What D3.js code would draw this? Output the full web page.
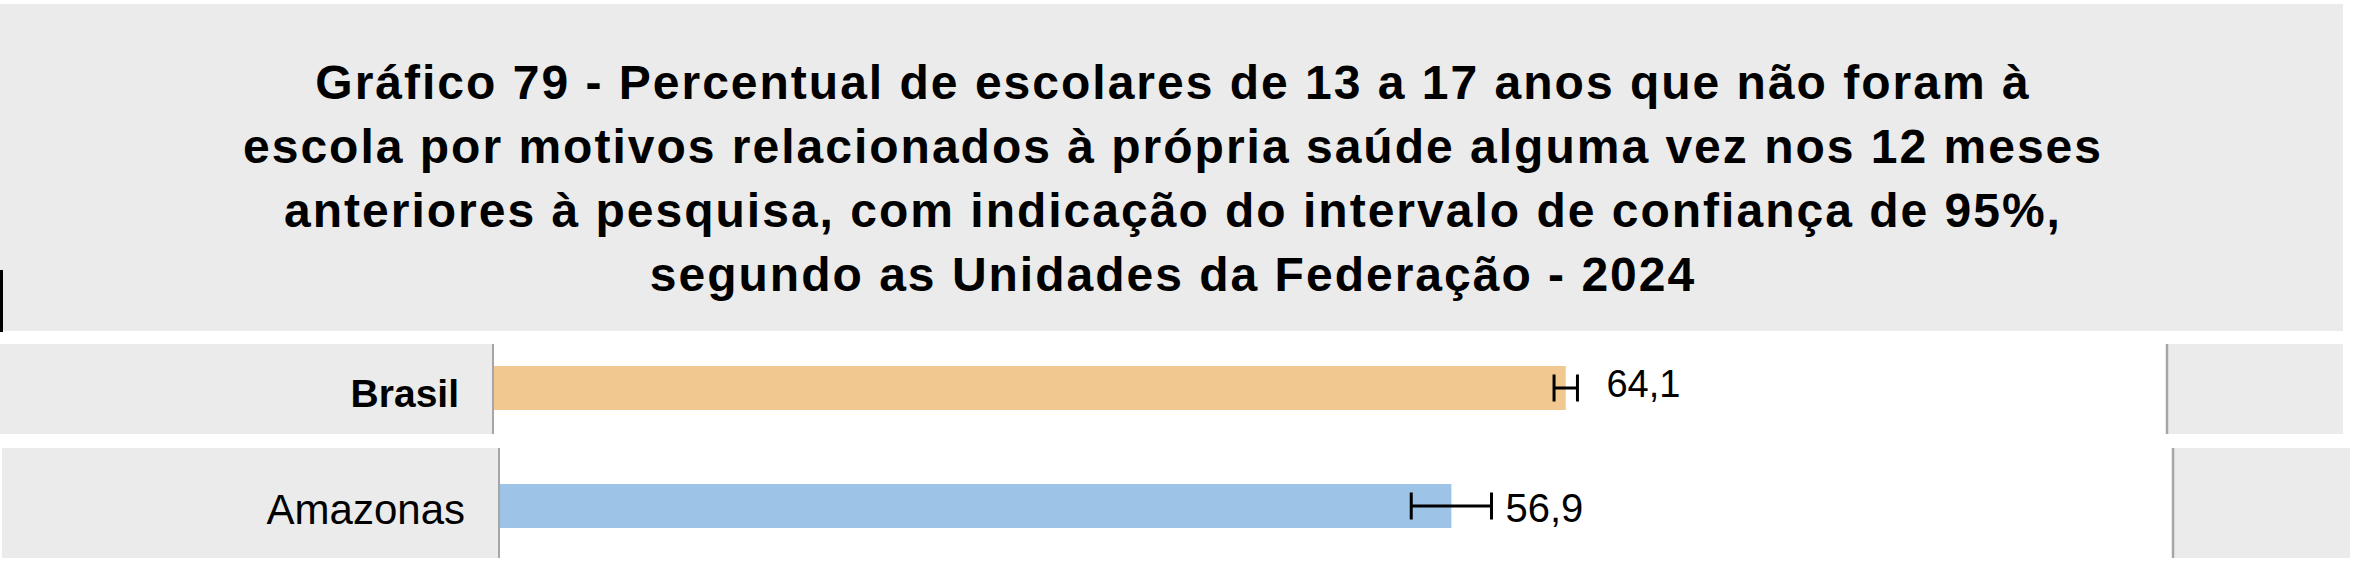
<!DOCTYPE html>
<html>
<head>
<meta charset="utf-8">
<script src="https://cdn.jsdelivr.net/npm/d3@7"></script>
<style>
  html, body { margin: 0; padding: 0; background: #ffffff; }
  svg { display: block; font-family: "Liberation Sans", Arial, sans-serif; }
</style>
</head>
<body>
<div id="chart"></div>
<script>
// data
let titleLines = [
    "Gráfico 79 - Percentual de escolares de 13 a 17 anos que não foram à",
    "escola por motivos relacionados à própria saúde alguma vez nos 12 meses",
    "anteriores à pesquisa, com indicação do intervalo de confiança de 95%,",
    "segundo as Unidades da Federação - 2024"
];
let categories = ["Brasil", "Amazonas"];
let values = [64.1, 56.9];
let ciLow = [63.4, 54.5];
let ciHigh = [64.8, 59.3];
let valueLabels = ["64,1", "56,9"];

let canvasWidth = 2354;
let canvasHeight = 566;
let grey = "#ebebeb";

let svg = d3.select("#chart")
    .append("svg")
    .attr("width", canvasWidth)
    .attr("height", canvasHeight);

svg.append("rect")
    .attr("fill", "#ffffff")
    .attr("width", "100%")
    .attr("height", "100%");

// title block
svg.append("rect")
    .attr("x", 0)
    .attr("y", 4)
    .attr("width", 2343)
    .attr("height", 327)
    .attr("fill", grey);

// little black mark on the left edge
svg.append("rect")
    .attr("x", 0)
    .attr("y", 270)
    .attr("width", 3)
    .attr("height", 62)
    .attr("fill", "#000000");

let titleY = d3.scalePoint()
    .domain(d3.range(titleLines.length))
    .range([99, 291]);

svg.append("g")
    .selectAll("text")
    .data(titleLines)
    .join("text")
    .attr("x", 1173)
    .attr("y", (d, i) => titleY(i))
    .attr("text-anchor", "middle")
    .attr("font-size", 48)
    .attr("font-weight", "bold")
    .attr("letter-spacing", 2)
    .attr("fill", "#000000")
    .text(d => d);

// each row was pasted as its own strip, so they don't line up exactly
let rowLayout = [
    { left: 0, offset: 494, top: 344, height: 90, right: 2343, barTop: 366, labelY: 407,
      labelSize: 39, bold: true, valueSize: 38, valueGap: 29, valueY: 397, color: "#f2c891" },
    { left: 2, offset: 500, top: 448, height: 110, right: 2350, barTop: 484, labelY: 524,
      labelSize: 42, bold: false, valueSize: 40, valueGap: 14, valueY: 522, color: "#9dc3e6" }
];

let barHeight = 44;
let capHeight = 27;

let xScale = d3.scaleLinear().domain([0, 100]).range([0, 1672]);

categories.forEach(function(cat, i) {
    let L = rowLayout[i];
    let row = svg.append("g").attr("class", "row");

    // left label box
    row.append("rect")
        .attr("x", L.left)
        .attr("y", L.top)
        .attr("width", L.offset - L.left)
        .attr("height", L.height)
        .attr("fill", grey);
    row.append("line")
        .attr("x1", L.offset - 1).attr("x2", L.offset - 1)
        .attr("y1", L.top).attr("y2", L.top + L.height)
        .attr("stroke", "#a6a6a6")
        .attr("stroke-width", 2);

    // right box
    let rx = L.offset + xScale(100);
    row.append("rect")
        .attr("x", rx)
        .attr("y", L.top)
        .attr("width", L.right - rx)
        .attr("height", L.height)
        .attr("fill", grey);
    row.append("line")
        .attr("x1", rx + 1).attr("x2", rx + 1)
        .attr("y1", L.top).attr("y2", L.top + L.height)
        .attr("stroke", "#a6a6a6")
        .attr("stroke-width", 2.5);

    row.append("text")
        .attr("x", L.offset - 35)
        .attr("y", L.labelY)
        .attr("text-anchor", "end")
        .attr("font-size", L.labelSize)
        .attr("font-weight", L.bold ? "bold" : "normal")
        .attr("fill", "#000000")
        .text(cat);

    let g = row.append("g")
        .attr("transform", "translate(" + L.offset + ", 0)");

    // bar
    g.append("rect")
        .attr("x", xScale(0))
        .attr("y", L.barTop)
        .attr("width", xScale(values[i]) - xScale(0))
        .attr("height", barHeight)
        .attr("fill", L.color);

    // confidence interval
    let cy = L.barTop + barHeight / 2;
    g.append("line")
        .attr("x1", xScale(ciLow[i])).attr("x2", xScale(ciHigh[i]))
        .attr("y1", cy).attr("y2", cy)
        .attr("stroke", "#000000")
        .attr("stroke-width", 3);
    [ciLow[i], ciHigh[i]].forEach(function(v) {
        g.append("line")
            .attr("x1", xScale(v)).attr("x2", xScale(v))
            .attr("y1", cy - capHeight / 2).attr("y2", cy + capHeight / 2)
            .attr("stroke", "#000000")
            .attr("stroke-width", 3);
    });

    // value label
    g.append("text")
        .attr("x", xScale(ciHigh[i]) + L.valueGap)
        .attr("y", L.valueY)
        .attr("font-size", L.valueSize)
        .attr("fill", "#000000")
        .text(valueLabels[i]);
});
</script>
</body>
</html>
